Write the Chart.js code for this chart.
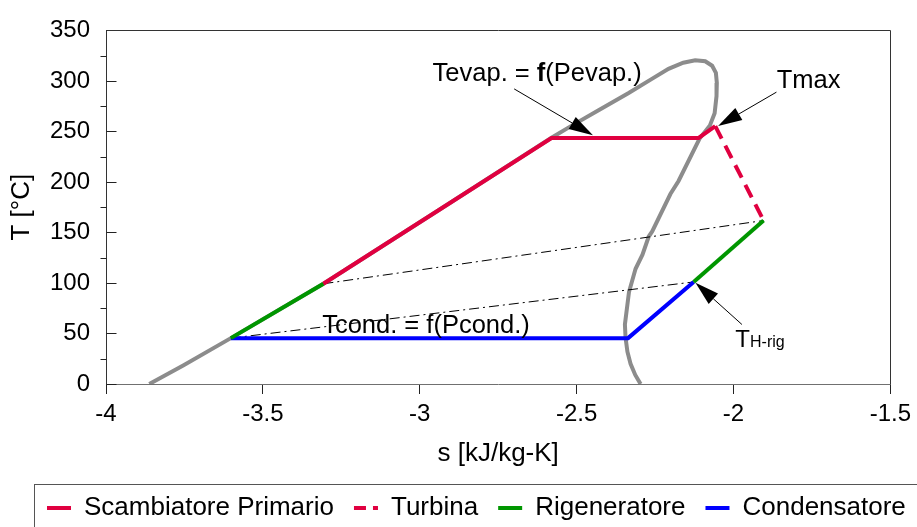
<!DOCTYPE html>
<html><head><meta charset="utf-8">
<script src="https://cdn.jsdelivr.net/npm/chart.js@4.4.1/dist/chart.umd.min.js"></script>
<style>html,body{margin:0;padding:0;background:#fff;}canvas{display:block;}</style>
</head><body>
<canvas id="c" width="917" height="527"></canvas>
<script>
const FONT = "'Liberation Sans', Arial, sans-serif";

// Saturation dome (s [kJ/kg-K], T [°C])
const domeS = [-3.862, -3.754, -3.602, -3.307, -2.95, -2.58, -2.514, -2.43, -2.334, -2.26, -2.207, -2.16, -2.122, -2.09, -2.068, -2.056, -2.053, -2.054, -2.06, -2.075, -2.108, -2.175, -2.201, -2.259, -2.27, -2.29, -2.312, -2.333, -2.346, -2.344, -2.338, -2.328, -2.313, -2.296];
const domeT = [0, 18.4, 45.4, 99.2, 170, 243.7, 256, 271, 288, 302, 312, 318, 320.5, 319.5, 315, 308, 298, 285, 268, 256, 243, 201, 188, 151, 146, 128, 114, 91, 59, 46, 32, 20, 9, 0];

// Cycle
const primS = [-3.307, -2.95, -2.580, -2.111, -2.058];
const primT = [99.2, 170.0, 243.5, 243.5, 255.3];
const turbS = [-2.058, -1.904];
const turbT = [255.3, 161.8];
const regHotS = [-2.127, -1.904];
const regHotT = [101.0, 161.8];
const regColdS = [-3.602, -3.307];
const regColdT = [45.4, 99.2];
const condS = [-2.127, -2.336, -3.602];
const condT = [101.0, 45.4, 45.4];
const link1S = [-3.307, -1.904];
const link1T = [99.2, 161.8];
const link2S = [-3.602, -2.127];
const link2T = [45.4, 101.0];

const legendNames = ['Scambiatore Primario', 'Turbina', 'Rigeneratore', 'Condensatore'];
const xTickLabels = ['-4', '-3.5', '-3', '-2.5', '-2', '-1.5'];
const yTickLabels = ['0', '50', '100', '150', '200', '250', '300', '350'];

const RED = 'rgb(224,0,64)', GREEN = 'rgb(0,150,0)', BLUE = 'rgb(0,0,255)', GRAY = 'rgb(140,140,140)';

const pts = (S, T) => S.map((s, i) => ({x: s, y: T[i]}));
const line = (label, S, T, color, width, dash, order) => ({
  label, data: pts(S, T), showLine: true, borderColor: color, backgroundColor: color,
  borderWidth: width, borderDash: dash || [], pointRadius: 0, pointHoverRadius: 0,
  fill: false, tension: 0, order: order || 0
});

const legendStyle = [
  {color: RED, dash: [], ds: 0},
  {color: RED, dash: [12, 7], ds: 1},
  {color: GREEN, dash: [], ds: 2},
  {color: BLUE, dash: [], ds: 4}
];

// annotations (data coordinates)
const notes = [
  {parts: [['Tevap. = ', 'normal', 25.5], ['f', 'bold', 25.5], ['(Pevap.)', 'normal', 25.5]], s: -2.959, t: 299.6},
  {parts: [['Tmax', 'normal', 25.5]], s: -1.862, t: 293.1},
  {parts: [['Tcond. = f(Pcond.)', 'normal', 25.5]], s: -3.311, t: 50.9},
  {parts: [['T', 'normal', 24], ['H-rig', 'normal', 16]], s: -1.994, t: 36.2}
];
const arrows = [
  {from: [-2.699, 292.1], to: [-2.448, 246.3]},
  {from: [-1.863, 288.9], to: [-2.049, 255.3]},
  {from: [-1.973, 58.9], to: [-2.121, 100.2]}
];

const decor = {
  id: 'decor',
  afterDatasetsDraw(chart) {
    const {ctx, scales: {x, y}} = chart;
    ctx.save();
    ctx.fillStyle = '#000';
    ctx.textBaseline = 'alphabetic';
    ctx.textAlign = 'left';
    notes.forEach(n => {
      let px = x.getPixelForValue(n.s);
      const py = y.getPixelForValue(n.t);
      n.parts.forEach(([txt, w, sz]) => {
        ctx.font = `${w} ${sz}px ${FONT}`;
        ctx.fillText(txt, px, py);
        px += ctx.measureText(txt).width;
      });
    });
    arrows.forEach(a => {
      const x0 = x.getPixelForValue(a.from[0]), y0 = y.getPixelForValue(a.from[1]);
      const x1 = x.getPixelForValue(a.to[0]), y1 = y.getPixelForValue(a.to[1]);
      const ang = Math.atan2(y1 - y0, x1 - x0);
      const L = 24, W = 7;
      const bx = x1 - L * Math.cos(ang), by = y1 - L * Math.sin(ang);
      ctx.strokeStyle = '#000'; ctx.lineWidth = 1;
      ctx.beginPath(); ctx.moveTo(x0, y0); ctx.lineTo(bx, by); ctx.stroke();
      ctx.beginPath();
      ctx.moveTo(x1, y1);
      ctx.lineTo(bx + W * Math.sin(ang), by - W * Math.cos(ang));
      ctx.lineTo(bx - W * Math.sin(ang), by + W * Math.cos(ang));
      ctx.closePath(); ctx.fill();
    });
    ctx.restore();
  },
  afterDraw(chart) {
    const {ctx, chartArea: ca, scales: {y}} = chart;
    ctx.save();
    ctx.strokeStyle = '#222'; ctx.lineWidth = 1;
    ctx.beginPath();
    const vals = y.ticks.map(t => t.value);
    const L = Math.round(ca.left) + 0.5;
    vals.forEach((v, i) => {
      const py = Math.round(y.getPixelForValue(v)) + 0.5;
      ctx.moveTo(L, py); ctx.lineTo(L + 10, py);
      if (i < vals.length - 1) {
        const pm = Math.round(y.getPixelForValue((v + vals[i + 1]) / 2)) + 0.5;
        ctx.moveTo(L - 6, pm); ctx.lineTo(L, pm);
      }
    });
    ctx.stroke();
    ctx.strokeStyle = '#333';
    ctx.beginPath();
    ctx.moveTo(L, Math.round(ca.top) + 0.5);
    ctx.lineTo(Math.round(ca.right) + 0.5, Math.round(ca.top) + 0.5);
    ctx.lineTo(Math.round(ca.right) + 0.5, Math.round(ca.bottom) + 0.5);
    ctx.stroke();
    // legend frame
    const lg = chart.legend;
    ctx.strokeStyle = '#555';
    ctx.strokeRect(Math.round(lg.left + 7) + 0.5, Math.round(lg.top + 9) + 0.5, 1000, 100);
    ctx.restore();
  }
};

new Chart(document.getElementById('c'), {
  type: 'scatter',
  data: {
    datasets: [
      line(legendNames[0], primS, primT, RED, 4),
      line(legendNames[1], turbS, turbT, RED, 4, [14, 8]),
      line(legendNames[2], regHotS, regHotT, GREEN, 4),
      line('', regColdS, regColdT, GREEN, 4),
      line(legendNames[3], condS, condT, BLUE, 4),
      line('', link1S, link1T, '#000', 1, [10, 4, 2, 4], 5),
      line('', link2S, link2T, '#000', 1, [10, 4, 2, 4], 5),
      line('', domeS, domeT, GRAY, 4, [], 10)
    ]
  },
  options: {
    responsive: false,
    animation: false,
    events: [],
    layout: {padding: {left: 27, right: -20, top: 23, bottom: -4}},
    plugins: {
      tooltip: {enabled: false},
      legend: {
        position: 'bottom',
        align: 'start',
        labels: {
          usePointStyle: true,
          pointStyleWidth: 24,
          padding: 20,
          color: '#000',
          font: {family: FONT, size: 26},
          generateLabels: () => legendNames.map((name, i) => ({
            text: name, strokeStyle: legendStyle[i].color, fillStyle: legendStyle[i].color,
            lineWidth: 4, lineDash: legendStyle[i].dash, pointStyle: 'line',
            hidden: false, datasetIndex: legendStyle[i].ds, fontColor: '#000'
          }))
        }
      }
    },
    scales: {
      x: {
        type: 'linear', min: -4, max: -1.5,
        afterFit: s => { s.height = 91; },
        ticks: {stepSize: 0.5, padding: 6, color: '#000', font: {family: FONT, size: 24},
          callback: (v) => xTickLabels[Math.round((v + 4) / 0.5)]},
        grid: {drawOnChartArea: false, drawTicks: true, tickLength: 10, color: '#222'},
        border: {display: true, color: '#707070', width: 1},
        title: {display: true, text: 's [kJ/kg-K]', color: '#000', font: {family: FONT, size: 26}, padding: {top: 0, bottom: 6}}
      },
      y: {
        type: 'linear', min: 0, max: 350,
        afterFit: s => { s.width = 79; },
        ticks: {stepSize: 50, padding: 16, color: '#000', font: {family: FONT, size: 24},
          callback: (v) => yTickLabels[Math.round(v / 50)]},
        grid: {display: false, drawTicks: false},
        border: {display: true, color: '#333', width: 1},
        title: {display: true, text: 'T [°C]', color: '#000', font: {family: FONT, size: 26}, padding: {top: -21, bottom: 0}}
      },
      yPad: {
        type: 'linear', position: 'right', display: true,
        afterFit: s => { s.width = 45; },
        ticks: {display: false},
        grid: {display: false, drawTicks: false},
        border: {display: false}
      }
    }
  },
  plugins: [decor]
});
</script>
</body></html>
